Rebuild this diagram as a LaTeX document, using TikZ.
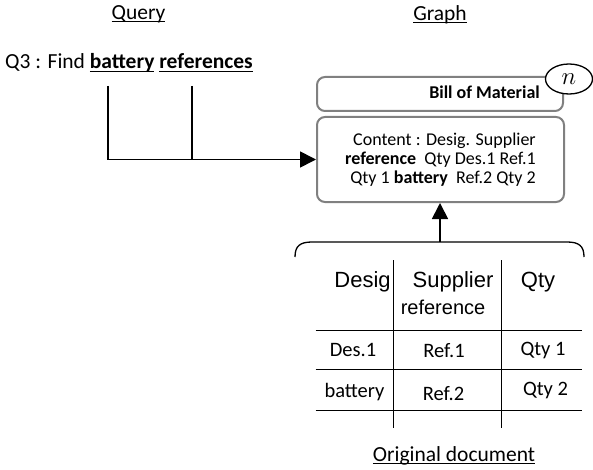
\documentclass[tikz,border=0pt]{standalone}
\usepackage{fontspec}
\setmainfont{Carlito}
\newfontfamily\arialf{Liberation Sans}
\usetikzlibrary{arrows.meta,shapes.geometric}
\newcommand\myul[1]{{\setbox0\hbox{#1}\rlap{\rule[-2.8pt]{\wd0}{1.2pt}}\box0\relax}}
\tikzset{
  box/.style={draw=black!50, line width=2pt, rounded corners=8pt, inner sep=0pt},
  conn/.style={line width=1.7pt, black},
  arr/.style={conn, -{Triangle[length=16pt,width=16pt]}},
  tline/.style={line width=1pt, black},
  txt/.style={inner sep=0pt, anchor=base},
  big/.style={font=\fontsize{21.5}{24}\selectfont},
  mid/.style={font=\fontsize{18}{19}\selectfont},
  cell/.style={font=\fontsize{20.5}{22}\selectfont},
  ar/.style={font=\arialf\fontsize{22}{24}\selectfont},
  ars/.style={font=\arialf\fontsize{20}{22}\selectfont},
}
\begin{document}
\begin{tikzpicture}[x=1pt,y=-1pt]
\useasboundingbox (0,0) rectangle (593,470);
% headings
\node[txt,big] (qh) at (138.5,19.5) {\myul{Query}};
\node[txt,big] (gh) at (440,20.5) {\myul{Graph}};
\node[txt,big,anchor=base west] (q3) at (5,69) {Q3 : Find \myul{\textbf{battery}} \myul{\textbf{references}}};
% graph boxes
\node[box, minimum width=246pt, minimum height=34pt] (bom) at (440,94) {};
\node[txt,mid,anchor=base east] (bomt) at (540,99) {\textbf{Bill of Material}};
\node[draw, ellipse, fill=white, line width=1.3pt, minimum width=47pt, minimum height=30pt, inner sep=0pt] (n) at (569,79) {\fontsize{25}{25}\selectfont$n$};
\node[box, minimum width=247pt, minimum height=85pt, align=right, font=\fontsize{18}{19}\selectfont] (content) at (440.5,159.5)
  {Content : Desig. Supplier\\ \textbf{reference}\ \ Qty Des.1 Ref.1\\ Qty 1 \textbf{battery}\ \ Ref.2 Qty 2};
% query connectors
\coordinate (b1) at (107.7,86);
\coordinate (b2) at (191.7,86);
\draw[arr] (b1) |- (content.west);
\draw[conn] (b2) -- (b2 |- content.west);
% brace
\coordinate (bl) at (295,257);
\coordinate (br) at (584,257);
\coordinate (bt) at (440,242);
\draw[line width=1.3pt] (bl) .. controls (295,246) and (300,242) .. (312,242) -- (567,242) .. controls (579,242) and (584,246) .. (br);
\draw[arr] (bt) -- (bt |- content.south);
% table
\coordinate (v1t) at (393.3,260); \coordinate (v1b) at (393.3,428);
\coordinate (v2t) at (501,260); \coordinate (v2b) at (501,428);
\draw[tline] (v1t) -- (v1b);
\draw[tline] (v2t) -- (v2b);
\coordinate (h1l) at (315.7,330); \coordinate (h1r) at (581.7,330);
\coordinate (h2l) at (315.7,369); \coordinate (h2r) at (581.7,369);
\coordinate (h3l) at (315.7,410.7); \coordinate (h3r) at (581.7,410.7);
\draw[tline] (h1l) -- (h1r);
\draw[tline] (h2l) -- (h2r);
\draw[tline] (h3l) -- (h3r);
\node[txt,ar] (c1) at (362.5,287) {Desig};
\node[txt,ar] (c2) at (453,287) {Supplier};
\node[txt,ars] (c2b) at (443,314) {reference};
\node[txt,ar] (c3) at (538,287) {Qty};
\node[txt,cell] (r11) at (353,356) {Des.1};
\node[txt,cell] (r12) at (444,357) {Ref.1};
\node[txt,cell] (r13) at (543,355) {Qty 1};
\node[txt,cell] (r21) at (354.5,397) {battery};
\node[txt,cell] (r22) at (443.5,400) {Ref.2};
\node[txt,cell] (r23) at (545.5,395) {Qty 2};
\node[txt,big] (od) at (454,461) {\myul{Original document}};
\end{tikzpicture}
\end{document}
